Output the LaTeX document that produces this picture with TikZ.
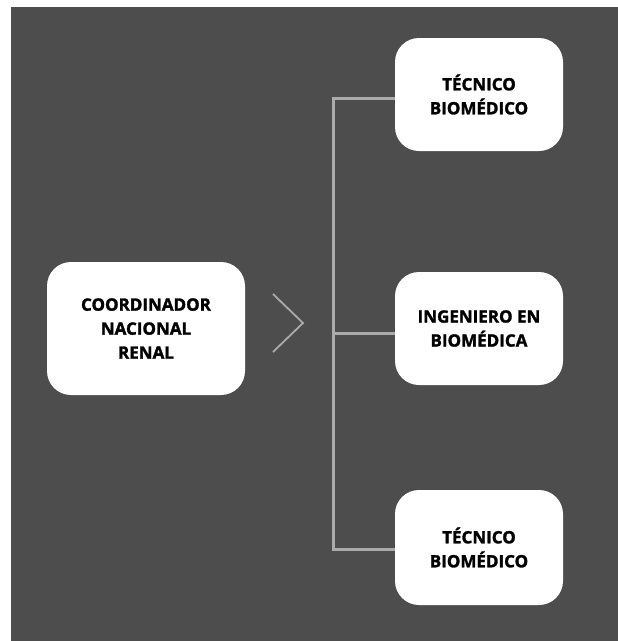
\documentclass[tikz,border=0pt]{standalone}
\usepackage{fontspec}
\setmainfont{Open Sans}[BoldFeatures={FakeBold=1.6}]
\definecolor{bgdark}{HTML}{4D4D4D}
\definecolor{linegray}{HTML}{ABABAB}
\tikzset{
  card/.style={fill=white, draw=none, rounded corners=24pt, inner sep=0pt,
    align=center, font=\bfseries\fontsize{17}{24}\selectfont, text=black},
  link/.style={draw=linegray, line width=3pt},
}
\begin{document}
\begin{tikzpicture}[x=1pt,y=-1pt]
\useasboundingbox (0,0) rectangle (618,641);
\fill[white] (0,0) rectangle (618,641);
\fill[bgdark] (11,7) rectangle (618,641);
\node[card, minimum width=198pt, minimum height=133pt] (coord) at (146,328.5) {COORDINADOR\\NACIONAL\\RENAL};
\node[card, minimum width=168pt, minimum height=113pt] (t1) at (479,94.5) {TÉCNICO\\BIOMÉDICO};
\node[card, minimum width=168pt, minimum height=113pt] (ing) at (479,328.5) {INGENIERO EN\\BIOMÉDICA};
\node[card, minimum width=168pt, minimum height=115pt] (t2) at (479,547.5) {TÉCNICO\\BIOMÉDICO};
\coordinate (sTop) at (333,98);
\coordinate (sMid) at (333,333);
\coordinate (sBot) at (333,549);
\draw[link] (t1.west |- sTop) -- (sTop) -- (sBot) -- (t2.west |- sBot);
\draw[link] (sMid) -- (ing.west |- sMid);
\coordinate (chA) at (273,294);
\coordinate (chB) at (303,323);
\coordinate (chC) at (273,352);
\draw[draw=linegray, line width=1.8pt] (chA) -- (chB) -- (chC);
\end{tikzpicture}
\end{document}
